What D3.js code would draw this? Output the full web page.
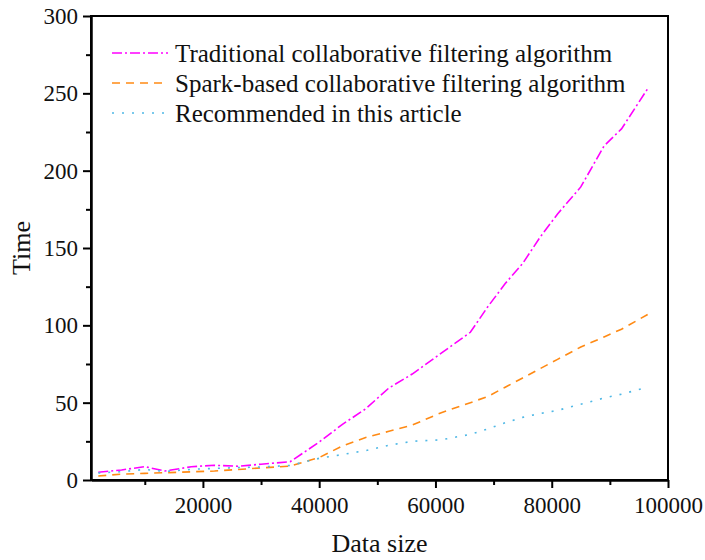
<!DOCTYPE html>
<html>
<head>
<meta charset="utf-8">
<script src="https://cdn.jsdelivr.net/npm/d3@7"></script>
<style>
  html, body { margin: 0; padding: 0; background: #fff; }
  svg { display: block; font-family: "Liberation Serif", "Times New Roman", serif; }
</style>
</head>
<body>
<svg id="chart" width="705" height="560"></svg>
<script>
// ---- data ----
const dataSize = [2000, 6000, 10000, 13500, 18000, 22000, 26000, 30000, 35000, 40000, 44000, 48000, 52000, 56000, 61000, 66000, 69000, 72000, 75000, 78000, 81000, 85000, 89000, 92000, 96500];
const traditional = [5.0, 6.5, 8.6, 5.8, 8.6, 9.5, 8.9, 10.2, 11.8, 24.5, 36, 46, 59.5, 68.5, 82, 95.5, 112, 127, 140, 157, 172, 189.5, 216, 227, 253];
const sparkBased = [2.6, 3.8, 4.3, 4.7, 5.3, 5.8, 6.8, 7.8, 9.0, 14.5, 22, 27.5, 31.5, 35.5, 43.5, 50, 54, 60, 66, 72, 78, 86, 92.5, 97.5, 107];
const recommended = [4.5, 5.4, 6.8, 5.5, 6.9, 7.5, 8.0, 8.4, 9.4, 14, 16.5, 19, 22.5, 25, 26, 29.5, 33, 37, 40.5, 43, 45, 49, 53, 55.5, 60];
const seriesNames = ["Traditional collaborative filtering algorithm", "Spark-based collaborative filtering algorithm", "Recommended in this article"];
const xTicks = [20000, 40000, 60000, 80000, 100000];
const xMinorTicks = [10000, 30000, 50000, 70000, 90000];
const yTicks = [0, 50, 100, 150, 200, 250, 300];
const yMinorTicks = [25, 75, 125, 175, 225, 275];
const xTitle = "Data size";
const yTitle = "Time";

// ---- styles ----
const colors = ["#ff00ff", "#ff8a14", "#4fb8e6"];
const dashes = ["10,3,2,3", "8,6", "2,8"];

const svg = d3.select("#chart");
const mLeft = 91, mRight = 668, mTop = 16, mBottom = 480;

const x = d3.scaleLinear().domain([750, 100000]).range([mLeft, mRight]);
const y = d3.scaleLinear().domain([0, 300]).range([mBottom, mTop]);

// frame
svg.append("rect").attr("x", mLeft).attr("y", mTop).attr("width", mRight - mLeft).attr("height", mBottom - mTop)
  .attr("fill", "none").attr("stroke", "#000").attr("stroke-width", 2);

// x axis
const gx = svg.append("g").attr("transform", `translate(0,${mBottom})`);
gx.call(d3.axisBottom(x).tickValues(xTicks).tickSize(8).tickSizeOuter(0).tickFormat(d3.format("d")));
gx.append("g").call(d3.axisBottom(x).tickValues(xMinorTicks).tickSize(5).tickSizeOuter(0).tickFormat(""));
// y axis
const gy = svg.append("g").attr("transform", `translate(${mLeft},0)`);
gy.call(d3.axisLeft(y).tickValues(yTicks).tickSize(8).tickSizeOuter(0).tickFormat(d3.format("d")));
gy.append("g").call(d3.axisLeft(y).tickValues(yMinorTicks).tickSize(5).tickSizeOuter(0).tickFormat(""));

svg.selectAll(".domain").attr("stroke", "#000").attr("stroke-width", 2);
svg.selectAll(".tick line").attr("stroke", "#000").attr("stroke-width", 2);
svg.selectAll("g").attr("font-family", null);
svg.selectAll(".tick text").attr("font-size", 23).attr("fill", "#111");
gx.selectAll(".tick text").attr("dy", "0.71em").attr("y", 17);
gy.selectAll(".tick text").attr("x", -13);

// titles
svg.append("text").attr("x", (mLeft + mRight) / 2).attr("y", 552).attr("text-anchor", "middle")
  .attr("font-size", 26).attr("fill", "#111").text(xTitle);
svg.append("text").attr("transform", `translate(30,${(mTop + mBottom) / 2}) rotate(-90)`).attr("text-anchor", "middle")
  .attr("font-size", 26).attr("fill", "#111").text(yTitle);

// lines
const allSeries = [traditional, sparkBased, recommended];
const line = d3.line().x((d, i) => x(dataSize[i])).y(d => y(d));
const plot = svg.append("g");
allSeries.forEach((vals, k) => {
  plot.append("path").datum(vals).attr("d", line)
    .attr("fill", "none").attr("stroke", colors[k]).attr("stroke-width", 1.6)
    .attr("stroke-dasharray", dashes[k]);
});

// legend
const lg = svg.append("g");
seriesNames.forEach((name, k) => {
  const ly = 53 + k * 30;
  lg.append("line").attr("x1", 112).attr("x2", 168).attr("y1", ly).attr("y2", ly)
    .attr("stroke", colors[k]).attr("stroke-width", 1.6).attr("stroke-dasharray", dashes[k]);
  lg.append("text").attr("x", 175).attr("y", ly).attr("dy", "0.35em")
    .attr("font-size", 25).attr("fill", "#111").text(name);
});
</script>
</body>
</html>
